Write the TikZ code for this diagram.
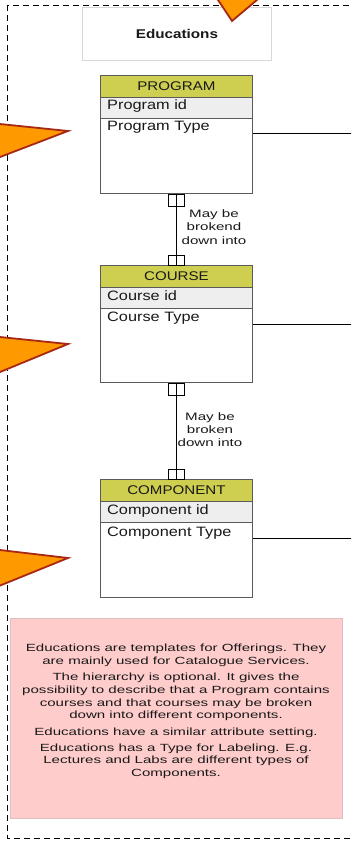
\documentclass[tikz,border=0pt]{standalone}
\usepackage{fontspec}
\setmainfont{Liberation Sans}
\newfontfamily\entfont{Liberation Sans}[FakeStretch=1.2]
\newfontfamily\lblfont{Liberation Sans}[FakeStretch=1.4]
\newfontfamily\notefont{Liberation Sans}[FakeStretch=1.45]
\usetikzlibrary{calc}
\definecolor{hdrfill}{RGB}{206,206,80}
\definecolor{idfill}{RGB}{238,238,238}
\definecolor{entline}{RGB}{90,90,90}
\definecolor{orangefill}{RGB}{255,153,0}
\definecolor{orangeline}{RGB}{168,40,22}
\definecolor{notefill}{RGB}{255,204,204}
\definecolor{noteline}{RGB}{225,190,190}
\definecolor{titleline}{RGB}{215,215,215}
\definecolor{txt}{RGB}{25,25,25}
\tikzset{
  hdr/.style={draw=entline, fill=hdrfill, line width=0.9pt, anchor=north west, minimum width=152pt, minimum height=22pt, inner sep=0pt, font=\entfont\fontsize{12.6}{14}\selectfont, text=txt},
  idrow/.style={draw=entline, fill=idfill, line width=0.9pt, anchor=north west, minimum width=152pt, minimum height=21pt, inner sep=0pt},
  body/.style={draw=entline, fill=white, line width=0.9pt, anchor=north west, minimum width=152pt, inner sep=0pt},
  attr/.style={anchor=base west, inner sep=0pt, font=\entfont\fontsize{13.6}{15}\selectfont, text=txt},
  onemark/.style={draw=black, line width=0.7pt},
  rel/.style={draw=black, line width=0.8pt},
  lbl/.style={align=center, inner sep=0pt, font=\lblfont\fontsize{10.8}{13.3}\selectfont, text=txt},
  pointer/.style={fill=orangefill, draw=orangeline, line width=1.8pt, line join=miter},
}
\begin{document}
\begin{tikzpicture}[x=1pt,y=-1pt]
\useasboundingbox (0,0) rectangle (351,842);
\clip (0,0) rectangle (351,842);
% frame
\draw[black, line width=0.9pt, dash pattern=on 6pt off 4pt] (7,5) rectangle (420,838);
% title
\node[draw=titleline, line width=0.9pt, anchor=north west, minimum width=189pt, minimum height=53pt, inner sep=0pt, fill=white] (title) at (82,7) {};
\node[font=\entfont\bfseries\fontsize{12.7}{14}\selectfont, text=txt] (titletxt) at (title.center) {Educations};
% PROGRAM
\node[hdr] (progh) at (100,75) {PROGRAM};
\node[idrow] (progi) at (100,97) {};
\node[body, minimum height=75pt] (progb) at (100,118) {};
\node[attr] (progid) at (107,110) {Program id};
\node[attr] (progty) at (107,131) {Program Type};
% COURSE
\node[hdr] (courh) at (100,265) {COURSE};
\node[idrow] (couri) at (100,287) {};
\node[body, minimum height=74pt] (courb) at (100,308) {};
\node[attr] (courid) at (107,300) {Course id};
\node[attr] (courty) at (107,321) {Course Type};
% COMPONENT
\node[hdr] (comph) at (100,479) {COMPONENT};
\node[idrow] (compi) at (100,501) {};
\node[body, minimum height=75pt] (compb) at (100,522) {};
\node[attr] (compid) at (107,514) {Component id};
\node[attr] (compty) at (107,536) {Component Type};
% relations
\draw[rel] (progb.south) -- (courh.north);
\draw[onemark] ($(progb.south)+(-8,0)$) rectangle ($(progb.south)+(8,12)$);
\draw[onemark] ($(courh.north)+(-8,-10)$) rectangle ($(courh.north)+(8,0)$);
\node[lbl] (lbl1) at (214,227) {May be\\brokend\\down into};
\draw[rel] (courb.south) -- (comph.north);
\draw[onemark] ($(courb.south)+(-8,0)$) rectangle ($(courb.south)+(8,12)$);
\draw[onemark] ($(comph.north)+(-8,-10)$) rectangle ($(comph.north)+(8,0)$);
\node[lbl] (lbl2) at (210,429.5) {May be\\broken\\down into};
% outgoing lines
\coordinate (pout) at (352,133);
\coordinate (cout) at (352,324);
\coordinate (mout) at (352,538);
\draw[rel] (pout -| progb.east) -- (pout);
\draw[rel] (cout -| courb.east) -- (cout);
\draw[rel] (mout -| compb.east) -- (mout);
% note
\node[draw=noteline, fill=notefill, line width=0.9pt, anchor=north west, minimum width=332pt, minimum height=200pt, inner sep=0pt] (note) at (10,618) {};
\node[align=center, inner sep=0pt, font=\notefont\fontsize{10.4}{12.8}\selectfont, text=txt] (notetxt) at (176,711.5) {Educations are templates for Offerings. They\\are mainly used for Catalogue Services.\\[3.3pt]The hierarchy is optional. It gives the\\possibility to describe that a Program contains\\courses and that courses may be broken\\down into different components.\\[3.3pt]Educations have a similar attribute setting.\\[3.3pt]Educations has a Type for Labeling. E.g.\\Lectures and Labs are different types of\\Components.};
% orange pointers
\draw[pointer] (214,-6) -- (232,21) -- (264,-6) -- cycle;
\draw[pointer] (-6,123.4) -- (68,131) -- (-6,159.3) -- cycle;
\draw[pointer] (-6,336.4) -- (68,344) -- (-6,374.5) -- cycle;
\draw[pointer] (-6,549.3) -- (68,558) -- (-6,588) -- cycle;
\end{tikzpicture}
\end{document}
